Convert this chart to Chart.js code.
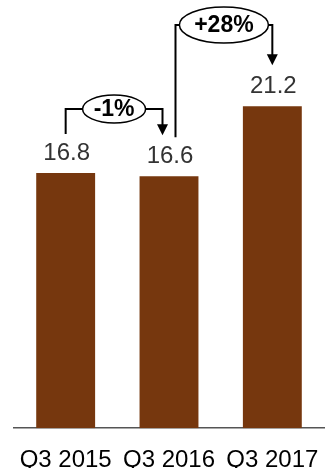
<!DOCTYPE html>
<html>
<head>
<meta charset="utf-8">
<script src="https://cdn.jsdelivr.net/npm/chart.js@4/dist/chart.umd.min.js"></script>
<style>
  body { margin: 0; background: #fff; }
</style>
</head>
<body>
<canvas id="myChart" width="329" height="468"></canvas>
<script>
const categories = ['Q3 2015', 'Q3 2016', 'Q3 2017'];
const values = [16.8, 16.6, 21.2];
// change between consecutive quarters
const changeLabels = ['-1%', '+28%'];

const FONT = '"Liberation Sans", Arial, sans-serif';

// value labels above the bars
const valueLabels = {
  id: 'valueLabels',
  afterDatasetsDraw(chart) {
    const ctx = chart.ctx;
    const meta = chart.getDatasetMeta(0);
    ctx.save();
    ctx.font = '24px ' + FONT;
    ctx.fillStyle = '#333';
    ctx.textAlign = 'center';
    ctx.textBaseline = 'middle';
    meta.data.forEach((bar, i) => {
      ctx.fillText(String(values[i]), bar.x + 1, bar.y - 20);
    });
    ctx.restore();
  }
};

// bracket arrows with the % change in an ellipse
const changeArrows = {
  id: 'changeArrows',
  afterDatasetsDraw(chart) {
    const ctx = chart.ctx;
    const meta = chart.getDatasetMeta(0);
    const style = [
      { dxFrom: 0, dxTo: -6.5, level: 109, rx: 31.5, ry: 14 },
      { dxFrom: 6.5, dxTo: 0, level: 25, rx: 44.5, ry: 18 }
    ];
    ctx.save();
    ctx.strokeStyle = '#000';
    ctx.fillStyle = '#000';
    ctx.lineWidth = 2;
    changeLabels.forEach((label, i) => {
      const a = meta.data[i], b = meta.data[i + 1];
      const s = style[i];
      const x1 = a.x + s.dxFrom, x2 = b.x + s.dxTo;
      const y1 = a.y - 39, y2 = b.y - 41;
      const cx = (x1 + x2) / 2;
      ctx.beginPath();
      ctx.moveTo(x1, y1);
      ctx.lineTo(x1, s.level);
      ctx.lineTo(x2, s.level);
      ctx.lineTo(x2, y2 - 10);
      ctx.stroke();
      ctx.beginPath();
      ctx.moveTo(x2 - 5.5, y2 - 11);
      ctx.lineTo(x2 + 5.5, y2 - 11);
      ctx.lineTo(x2, y2);
      ctx.closePath();
      ctx.fill();
      ctx.beginPath();
      ctx.ellipse(cx, s.level, s.rx, s.ry, 0, 0, Math.PI * 2);
      ctx.fillStyle = '#fff';
      ctx.fill();
      ctx.lineWidth = 1.5;
      ctx.stroke();
      ctx.lineWidth = 2;
      ctx.fillStyle = '#000';
      ctx.font = 'bold 23px ' + FONT;
      ctx.textAlign = 'center';
      ctx.textBaseline = 'middle';
      ctx.fillText(label, cx, s.level + 1);
    });
    ctx.restore();
  }
};

const ctx = document.getElementById('myChart').getContext('2d');
new Chart(ctx, {
  type: 'bar',
  data: {
    labels: categories,
    datasets: [{
      data: values,
      backgroundColor: '#76370e',
      barPercentage: 0.57,
      categoryPercentage: 1
    }]
  },
  options: {
    responsive: false,
    animation: false,
    layout: { padding: { left: 14, right: 5, top: 0, bottom: -24 } },
    scales: {
      x: {
        grid: { display: false, drawTicks: false },
        border: { display: true, color: '#555', width: 1.5 },
        ticks: { color: '#000', font: { family: FONT, size: 24 }, padding: 17.5, maxRotation: 0 },
        // keep the tick padding from shrinking the plot sideways
        afterFit(scale) {
          scale.paddingLeft = 0;
          scale.paddingRight = 0;
        }
      },
      y: {
        display: false,
        min: 0,
        max: 28.2
      }
    },
    plugins: {
      legend: { display: false },
      tooltip: { enabled: false }
    }
  },
  plugins: [valueLabels, changeArrows]
});
</script>
</body>
</html>
